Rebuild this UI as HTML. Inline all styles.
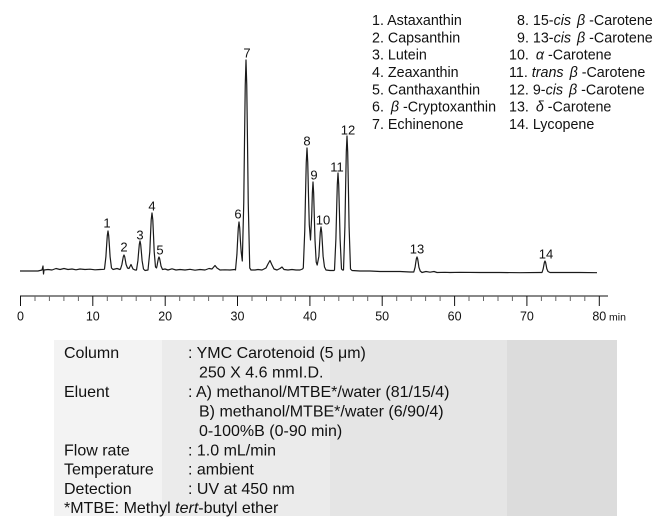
<!DOCTYPE html>
<html><head><meta charset="utf-8"><style>
html,body{margin:0;padding:0;background:#fff;}
svg{display:block;}
text{font-family:"Liberation Sans",Arial,sans-serif;fill:#111;}
</style></head><body>
<svg width="666" height="519" viewBox="0 0 666 519" xmlns="http://www.w3.org/2000/svg">
<!-- bottom panel -->
<rect x="54" y="340" width="108" height="176" fill="#f3f3f3"/>
<rect x="162" y="340" width="168" height="176" fill="#ebebeb"/>
<rect x="330" y="340" width="177" height="176" fill="#e5e5e5"/>
<rect x="507" y="340" width="110" height="176" fill="#dcdcdc"/>

<!-- chromatogram -->
<path fill="none" stroke="#1a1a1a" stroke-width="1.2" stroke-linejoin="round" d="M20,271 L38,271 L42,270 L43,266 L43.5,274 L44,270 L48,269.5 L52,270 L56,268.5 L60,269.5 L64,268.5 L68,269.5 L72,269 L76,269.8 L80,269 L85,269.5 L90,269.2 L95,269.8 L100,269.5 L104,269.3
L104.5,269 L105.9,256.8 L106.6,245.8 L107.3,235.6 L108,231 L108.7,235.6 L109.4,245.8 L110.1,256.8 L111.5,268 L113,269.5 L117,268.5 L120,269.5
L120.5,269 L121.9,264.5 L122.6,260.5 L123.3,256.7 L124,255 L124.7,256.7 L125.4,260.5 L126.1,264.5 L127.5,268
L129,268.5 L131,264.5 L133,269 L135,270
L136.5,270 L137.9,260.7 L138.6,252.3 L139.3,244.5 L140,241 L140.7,244.5 L141.4,252.3 L142.1,260.7 L143.5,269 L145,270.5 L148,270
L149.8,251.8 L150.5,235.2 L151.2,219.8 L152,213 L152.8,219.8 L153.5,235.2 L154.2,251.8 L155.5,267 L156.5,268
L157.1,265.5 L157.7,262 L158.4,258.5 L159,257 L159.6,258.5 L160.3,262 L161,266 L162.5,269.5
L165,269 L168,270 L172,268.8 L176,270 L180,269.5 L185,270 L190,269.3 L195,270.2 L200,269.5 L205,270 L209,268.5 L212,269 L215,265.5 L217,268 L220,270 L225,269.8 L230,270 L235,269.5
L235.5,270 L236.9,254.6 L237.6,240.7 L238.3,227.8 L239,222 L239.7,227.8 L240.4,240.7 L241.2,252 L242.3,261
L243.75,203 L244.5,142 L245.25,85 L246,60 L246.75,85 L247.5,142 L248.25,203 L249.75,268 L251,270
L255,270 L258,269.5 L262,270 L266,268 L268,264 L270,260.5 L272,265 L274,269 L277,270 L280,268.5 L282,267 L284,269.5 L288,270 L292,269.5 L296,270 L300,270 L302.5,269
L303.3,268 L304.75,231 L305.5,195.6 L306.25,162.6 L307,148 L307.75,162.6 L308.5,195.6 L309.3,225 L310.5,240
L311.7,216 L312.35,193 L313,182 L313.65,193 L314.3,216 L315,240 L316.2,262 L317.2,265
L318.9,256.2 L319.6,243.8 L320.3,232.2 L321,227 L321.7,232.2 L322.4,243.8 L323.1,256.2 L324.5,267 L326,270 L330,270.5 L334,270.5
L334.5,270 L335.9,239 L336.6,210.8 L337.3,184.6 L338,173 L338.7,184.6 L339.4,210.8 L340.1,239 L341.5,269 L342.5,270
L343.5,270 L344.9,227 L345.6,188 L346.3,152 L347,136 L347.7,152 L348.4,188 L349.1,227 L350.5,269 L352,270.5
L360,271 L370,271 L380,271.5 L390,271.5 L400,271.5 L410,272 L413.8,272
L415.1,267.2 L415.7,262.9 L416.35,258.8 L417,257 L417.65,258.8 L418.3,262.9 L418.9,267.2 L420.2,271 L422,272.5 L426,271.5 L430,272.2 L434,271.5 L437,272.5 L445,272.3 L450,272.5 L460,272.3 L480,272.5 L500,272.5 L520,272.7 L540,272.5 L542,272.5
L543.2,268.8 L543.8,265.5 L544.4,262.4 L545,261 L545.6,262.4 L546.2,265.5 L546.8,268.8 L548,271.5 L550,272.5 L560,272.5 L580,272.5 L597,272.7"/>

<!-- peak labels -->
<g font-size="13" text-anchor="middle">
<text x="107" y="227.5">1</text>
<text x="124" y="251.5">2</text>
<text x="140" y="239.5">3</text>
<text x="152" y="210.5">4</text>
<text x="160" y="254.5">5</text>
<text x="238" y="218.5">6</text>
<text x="247" y="57.5">7</text>
<text x="307" y="145.5">8</text>
<text x="314" y="179.5">9</text>
<text x="323" y="224.5">10</text>
<text x="337" y="171.5">11</text>
<text x="348" y="134.5">12</text>
<text x="417" y="253.5">13</text>
<text x="546" y="258.5">14</text>
</g>

<!-- axis -->
<line x1="20" y1="296" x2="608" y2="296" stroke="#111" stroke-width="1"/>
<g stroke="#111" stroke-width="1">
<line x1="20.5" y1="296" x2="20.5" y2="306"/>
<line x1="92.8" y1="296" x2="92.8" y2="306"/>
<line x1="165.2" y1="296" x2="165.2" y2="306"/>
<line x1="237.5" y1="296" x2="237.5" y2="306"/>
<line x1="309.9" y1="296" x2="309.9" y2="306"/>
<line x1="382.2" y1="296" x2="382.2" y2="306"/>
<line x1="454.6" y1="296" x2="454.6" y2="306"/>
<line x1="526.9" y1="296" x2="526.9" y2="306"/>
<line x1="599.3" y1="296" x2="599.3" y2="306"/>
</g>
<g stroke="#666" stroke-width="1">
<line x1="35" y1="296" x2="35" y2="301"/><line x1="49.4" y1="296" x2="49.4" y2="301"/><line x1="63.9" y1="296" x2="63.9" y2="301"/><line x1="78.4" y1="296" x2="78.4" y2="301"/>
<line x1="107.3" y1="296" x2="107.3" y2="301"/><line x1="121.8" y1="296" x2="121.8" y2="301"/><line x1="136.2" y1="296" x2="136.2" y2="301"/><line x1="150.7" y1="296" x2="150.7" y2="301"/>
<line x1="179.7" y1="296" x2="179.7" y2="301"/><line x1="194.1" y1="296" x2="194.1" y2="301"/><line x1="208.6" y1="296" x2="208.6" y2="301"/><line x1="223" y1="296" x2="223" y2="301"/>
<line x1="252" y1="296" x2="252" y2="301"/><line x1="266.5" y1="296" x2="266.5" y2="301"/><line x1="280.9" y1="296" x2="280.9" y2="301"/><line x1="295.4" y1="296" x2="295.4" y2="301"/>
<line x1="324.4" y1="296" x2="324.4" y2="301"/><line x1="338.8" y1="296" x2="338.8" y2="301"/><line x1="353.3" y1="296" x2="353.3" y2="301"/><line x1="367.7" y1="296" x2="367.7" y2="301"/>
<line x1="396.7" y1="296" x2="396.7" y2="301"/><line x1="411.2" y1="296" x2="411.2" y2="301"/><line x1="425.6" y1="296" x2="425.6" y2="301"/><line x1="440.1" y1="296" x2="440.1" y2="301"/>
<line x1="469" y1="296" x2="469" y2="301"/><line x1="483.5" y1="296" x2="483.5" y2="301"/><line x1="498" y1="296" x2="498" y2="301"/><line x1="512.4" y1="296" x2="512.4" y2="301"/>
<line x1="541.4" y1="296" x2="541.4" y2="301"/><line x1="555.8" y1="296" x2="555.8" y2="301"/><line x1="570.3" y1="296" x2="570.3" y2="301"/><line x1="584.8" y1="296" x2="584.8" y2="301"/>
</g>
<g font-size="12.5" text-anchor="middle">
<text x="20.5" y="320.5">0</text>
<text x="92.8" y="320.5">10</text>
<text x="165.2" y="320.5">20</text>
<text x="237.5" y="320.5">30</text>
<text x="309.9" y="320.5">40</text>
<text x="382.2" y="320.5">50</text>
<text x="454.6" y="320.5">60</text>
<text x="526.9" y="320.5">70</text>
<text x="599.3" y="320.5">80</text>
</g>
<text x="609" y="320.5" font-size="10.5">min</text>

<!-- legend -->
<g font-size="14.3">
<text x="372" y="25">1. Astaxanthin</text>
<text x="372" y="42.3">2. Capsanthin</text>
<text x="372" y="59.7">3. Lutein</text>
<text x="372" y="77">4. Zeaxanthin</text>
<text x="372" y="94.3">5. Canthaxanthin</text>
<text x="372" y="111.7">6. <tspan dx="3" font-style="italic">β</tspan> -Cryptoxanthin</text>
<text x="372" y="129">7. Echinenone</text>
<text x="517" y="25">8. 15-<tspan font-style="italic">cis</tspan> <tspan dx="2" font-style="italic">β</tspan> -Carotene</text>
<text x="517" y="42.3">9. 13-<tspan font-style="italic">cis</tspan> <tspan dx="2" font-style="italic">β</tspan> -Carotene</text>
<text x="509" y="59.7">10. <tspan dx="3" font-style="italic">α</tspan> -Carotene</text>
<text x="509" y="77">11. <tspan font-style="italic">trans</tspan> <tspan dx="2" font-style="italic">β</tspan> -Carotene</text>
<text x="509" y="94.3">12. 9-<tspan font-style="italic">cis</tspan> <tspan dx="2" font-style="italic">β</tspan> -Carotene</text>
<text x="509" y="111.7">13. <tspan dx="3" font-style="italic">δ</tspan> -Carotene</text>
<text x="509" y="129">14. Lycopene</text>
</g>

<!-- conditions -->
<g font-size="16">
<text x="64" y="358">Column</text>
<text x="188" y="358">: YMC Carotenoid (5 μm)</text>
<text x="199" y="377.5">250 X 4.6 mmI.D.</text>
<text x="64" y="397">Eluent</text>
<text x="188" y="397">: A) methanol/MTBE*/water (81/15/4)</text>
<text x="199" y="416.5">B) methanol/MTBE*/water (6/90/4)</text>
<text x="199" y="436">0-100%B (0-90 min)</text>
<text x="64" y="455.5">Flow rate</text>
<text x="188" y="455.5">: 1.0 mL/min</text>
<text x="64" y="474.7">Temperature</text>
<text x="188" y="474.7">: ambient</text>
<text x="64" y="494">Detection</text>
<text x="188" y="494">: UV at 450 nm</text>
<text x="64" y="513">*MTBE: Methyl <tspan font-style="italic">tert</tspan>-butyl ether</text>
</g>
</svg>
</body></html>
